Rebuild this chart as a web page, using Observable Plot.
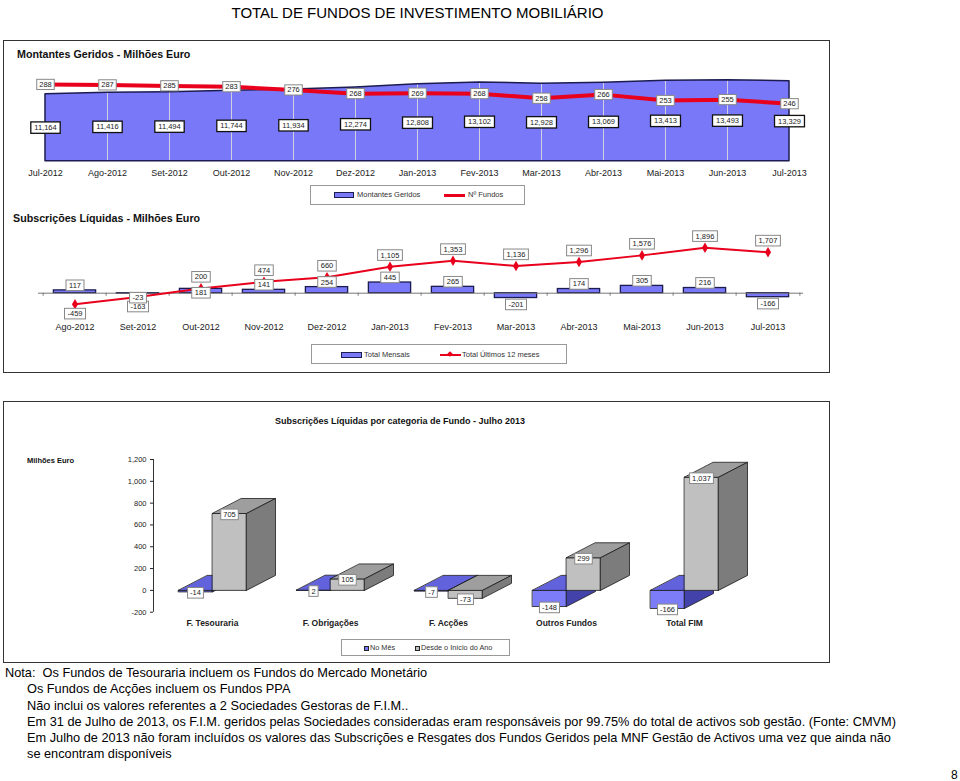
<!DOCTYPE html>
<html><head><meta charset="utf-8">
<script src="https://cdn.jsdelivr.net/npm/d3@7"></script>
<script src="https://cdn.jsdelivr.net/npm/@observablehq/plot@0.6"></script>
<style>
body{margin:0;background:#fff;font-family:"Liberation Sans",Arial,Helvetica,sans-serif;color:#111}
#page{position:relative;width:960px;height:781px;overflow:hidden;background:#fff}
.abs{position:absolute}
.box{position:absolute;border:1.5px solid #333;box-sizing:border-box}
.leg{position:absolute;border:1px solid #999;box-sizing:border-box}
.t{position:absolute;line-height:1;white-space:nowrap}
.lt{position:absolute;font-size:7.5px;color:#333;line-height:1;white-space:nowrap}
.note{position:absolute;font-size:12.75px;line-height:16.2px;white-space:nowrap;color:#000}
</style></head><body><div id="page"></div>
<script>
// ---------- DATA ----------
const meses = ["Jul-2012","Ago-2012","Set-2012","Out-2012","Nov-2012","Dez-2012","Jan-2013","Fev-2013","Mar-2013","Abr-2013","Mai-2013","Jun-2013","Jul-2013"];
const montantes = [11164,11416,11494,11744,11934,12274,12808,13102,12928,13069,13413,13493,13329];
const numFundos = [288,287,285,283,276,268,269,268,258,266,253,255,246];

const mesesSub = ["Ago-2012","Set-2012","Out-2012","Nov-2012","Dez-2012","Jan-2013","Fev-2013","Mar-2013","Abr-2013","Mai-2013","Jun-2013","Jul-2013"];
const totalMensais = [117,-23,181,141,254,445,265,-201,174,305,216,-166];
const totalUltimos12 = [-459,-163,200,474,660,1105,1353,1136,1296,1576,1896,1707];

const categorias = ["F. Tesouraria","F. Obrigações","F. Acções","Outros Fundos","Total FIM"];
const noMes = [-14,2,-7,-148,-166];
const desdeInicio = [705,105,-73,299,1037];
const ticks3 = [-200,0,200,400,600,800,1000,1200];

// ---------- HELPERS ----------
const FONT = '"Liberation Sans", Arial, Helvetica, sans-serif';
const BLUE = "#7878f8", NAVY = "#1c1c50", RED = "#e8001c";
const fmt = d3.formatLocale({decimal: ".", thousands: ",", grouping: [3], currency: ["", ""], minus: "-"}).format(",");
const page = document.getElementById("page");
const NS = "http://www.w3.org/2000/svg";

function place(node, left, top) {
  const d = document.createElement("div");
  d.className = "abs"; d.style.left = left + "px"; d.style.top = top + "px";
  d.appendChild(node); page.appendChild(d); return node;
}
function boxTexts(svg, stroke, sw, px, py) {
  svg.querySelectorAll('g[aria-label="text"] text').forEach(t => {
    const b = t.getBBox();
    const r = document.createElementNS(NS, "rect");
    r.setAttribute("x", b.x - px); r.setAttribute("y", b.y - py);
    r.setAttribute("width", b.width + 2 * px); r.setAttribute("height", b.height + 2 * py);
    r.setAttribute("fill", "white"); r.setAttribute("stroke", stroke); r.setAttribute("stroke-width", sw);
    const tr = t.getAttribute("transform"); if (tr) r.setAttribute("transform", tr);
    t.parentNode.insertBefore(r, t);
  });
}
function el(cls, html, left, top, style = "") {
  const d = document.createElement("div");
  d.className = cls; d.innerHTML = html;
  d.style.cssText += `left:${left}px;top:${top}px;` + style;
  page.appendChild(d); return d;
}
const baseStyle = {background: "transparent", fontFamily: FONT, color: "#222", overflow: "visible"};

// ---------- CHART 1 ----------
const d1 = meses.map((m, i) => ({mes: m, montante: montantes[i], fundos: numFundos[i]}));
const c1 = {width: 827, height: 142, marginLeft: 36, marginRight: 36, marginTop: 30.7, marginBottom: 21.3,
  style: {...baseStyle, fontSize: "9px"}};
const p1a = Plot.plot({...c1,
  x: {type: "point", domain: meses, padding: 0, label: null},
  y: {domain: [0, 15000], axis: null, label: null},
  marks: [
    Plot.areaY(d1, {x: "mes", y: "montante", fill: BLUE}),
    Plot.ruleX(d1.slice(1, -1), {x: "mes", y1: 0, y2: "montante", stroke: "#cfcfe0", strokeWidth: 1}),
    Plot.areaY(d1, {x: "mes", y: "montante", fill: "none", stroke: NAVY, strokeWidth: 1.5}),
    Plot.axisX({tickSize: 0, tickPadding: 8, fontSize: 9, label: null}),
    Plot.text(d1, {x: "mes", y: d => d.montante / 2, text: d => fmt(d.montante), fontSize: 7.5, fill: "#222"})
  ]});
place(p1a, 3, 40);
boxTexts(p1a, "#111", 1.3, 3.5, 1.2);

const p1b = Plot.plot({...c1,
  x: {type: "point", domain: meses, padding: 0, axis: null, label: null},
  y: {domain: [121, 317], axis: null, label: null},
  marks: [
    Plot.line(d1, {x: "mes", y: "fundos", stroke: RED, strokeWidth: 4}),
    Plot.text(d1, {x: "mes", y: "fundos", text: d => String(d.fundos), fontSize: 7.5, fill: "#222"})
  ]});
place(p1b, 3, 40);
boxTexts(p1b, "#888", 1, 2.5, 0.6);

// ---------- CHART 2 ----------
const d2 = mesesSub.map((m, i) => ({mes: m, mensal: totalMensais[i], total: totalUltimos12[i]}));
const c2 = {width: 827, height: 130, marginLeft: 35, marginRight: 27, marginTop: 30.1, marginBottom: 23.1};
const y2dom = [-800, 2400];
const step2 = (c2.width - c2.marginLeft - c2.marginRight) / mesesSub.length;
const pxY2 = (c2.height - c2.marginTop - c2.marginBottom) / (y2dom[1] - y2dom[0]);
const tickLen2 = -3 / pxY2;
const near = d => Math.abs(d.mensal - d.total) < 200;
const p2 = Plot.plot({...c2, style: {...baseStyle, fontSize: "9px"},
  x: {type: "band", domain: mesesSub, padding: 0, label: null},
  y: {domain: y2dom, axis: null, label: null},
  marks: [
    Plot.barY(d2, {x: "mes", y: "mensal", fill: BLUE, stroke: NAVY, strokeWidth: 1.3, insetLeft: (step2 - 43) / 2, insetRight: (step2 - 43) / 2}),
    Plot.ruleY([0], {stroke: "#777"}),
    Plot.ruleX(mesesSub, {x: d => d, y1: 0, y2: tickLen2, dx: -step2 / 2, stroke: "#777"}),
    Plot.ruleX(mesesSub.slice(-1), {x: d => d, y1: 0, y2: tickLen2, dx: step2 / 2, stroke: "#777"}),
    Plot.line(d2, {x: "mes", y: "total", stroke: RED, strokeWidth: 2}),
    Plot.dot(d2, {x: "mes", y: "total", symbol: "diamond", r: 3.2, fill: RED}),
    Plot.axisX({tickSize: 0, tickPadding: 11.6, fontSize: 9, label: null}),
    Plot.text(d2.filter(d => d.total >= 0), {x: "mes", y: "total", text: d => fmt(d.total), dy: -11.5, fontSize: 7.5, fill: "#222"}),
    Plot.text(d2.filter(d => d.total < 0), {x: "mes", y: "total", text: d => fmt(d.total), dy: 9.5, fontSize: 7.5, fill: "#222"}),
    Plot.text(d2.filter(d => !near(d) && d.mensal >= 0), {x: "mes", y: "mensal", text: d => fmt(d.mensal), dy: -5, fontSize: 7.5, fill: "#222"}),
    Plot.text(d2.filter(d => !near(d) && d.mensal < 0), {x: "mes", y: "mensal", text: d => fmt(d.mensal), dy: 6.5, fontSize: 7.5, fill: "#222"}),
    Plot.text(d2.filter(near), {x: "mes", y: "mensal", text: d => fmt(d.mensal), dy: 4, fontSize: 7.5, fill: "#222"})
  ]});
place(p2, 3, 205);
boxTexts(p2, "#888", 1, 3, 0.8);

// ---------- CHART 3 ----------
const c3 = {width: 827, height: 262, marginLeft: 150, marginRight: 28, marginTop: 58, marginBottom: 51.3};
const x3dom = [-0.5, 5], y3dom = [-200, 1200];
const pxX3 = (c3.width - c3.marginLeft - c3.marginRight) / (x3dom[1] - x3dom[0]);
const pxY3 = (c3.height - c3.marginTop - c3.marginBottom) / (y3dom[1] - y3dom[0]);
const barW = 34 / pxX3, depX = 29 / pxX3, depY = 15 / pxY3;
const polys = [];
let pid = 0;
function addPoly(series, face, pts) {
  const id = pid++;
  pts.forEach(([x, y]) => polys.push({series, face, id, x, y}));
}
[[noMes, "blue", -1], [desdeInicio, "gray", 0]].forEach(([vals, s, off]) => {
  vals.forEach((v, i) => {
    const x0 = i + off * barW, x1 = x0 + barW;
    const lo = Math.min(0, v), hi = Math.max(0, v);
    addPoly(s, "front", [[x0, lo], [x1, lo], [x1, hi], [x0, hi]]);
    addPoly(s, "top", [[x0, hi], [x1, hi], [x1 + depX, hi + depY], [x0 + depX, hi + depY]]);
    addPoly(s, "side", [[x1, lo], [x1 + depX, lo + depY], [x1 + depX, hi + depY], [x1, hi]]);
  });
});
const faceColors = {
  blue: {front: "#7c7cf8", top: "#6262dc", side: "#4242aa"},
  gray: {front: "#c0c0c0", top: "#9e9e9e", side: "#7c7c7c"}
};
const faceMarks = [];
["blue", "gray"].forEach(s => ["front", "top", "side"].forEach(f => {
  faceMarks.push(Plot.line(polys.filter(p => p.series === s && p.face === f),
    {x: "x", y: "y", z: "id", curve: "linear-closed", fill: faceColors[s][f], stroke: "#1a1a1a", strokeWidth: 0.8, strokeLinejoin: "miter"}));
}));
const lab3 = [
  ...noMes.map((v, i) => ({x: i - barW / 2, v})),
  ...desdeInicio.map((v, i) => ({x: i + barW / 2, v}))
];
const p3 = Plot.plot({...c3, style: {...baseStyle, fontSize: "7.5px"},
  x: {domain: x3dom, label: null},
  y: {domain: y3dom, label: null},
  marks: [
    ...faceMarks,
    Plot.ruleX([x3dom[0]], {y1: y3dom[0], y2: y3dom[1], stroke: "#333"}),
    Plot.axisY(ticks3, {tickFormat: fmt, tickSize: 3, tickPadding: 4, fontSize: 7.5, label: null}),
    Plot.axisX(categorias.map((c, i) => i), {tickFormat: i => categorias[i], tickSize: 0, tickPadding: 7.3, fontSize: 8.5, fontWeight: "bold", label: null}),
    Plot.text(lab3, {x: "x", y: "v", text: d => fmt(d.v), dy: 1, fontSize: 7.5, fill: "#222"})
  ]});
place(p3, 3, 401);
boxTexts(p3, "#888", 1, 2.5, 0.8);

// ---------- FRAMES, TITLES, LEGENDS, NOTES ----------
el("box", "", 3, 40, "width:827px;height:333px;");
el("box", "", 3, 401, "width:827px;height:262px;");

el("t", "TOTAL DE FUNDOS DE INVESTIMENTO MOBILIÁRIO", 0, 4.7, "width:835px;text-align:center;font-size:15px;color:#000;");
el("t", "Montantes Geridos - Milhões Euro", 17, 48.8, "font-size:10.7px;font-weight:bold;color:#111;");
el("t", "Subscrições Líquidas - Milhões Euro", 13, 212.8, "font-size:10.7px;font-weight:bold;color:#111;");
el("t", "Subscrições Líquidas por categoria de Fundo - Julho 2013", 275, 416.6, "font-size:9px;font-weight:bold;color:#111;");
el("t", "Milhões Euro", 27, 457.3, "font-size:7.5px;font-weight:bold;color:#111;");

// legend 1
el("leg", "", 310, 185, "width:215px;height:20px;");
el("abs", "", 334, 192, `width:20px;height:6px;background:${BLUE};border:1.5px solid ${NAVY};box-sizing:border-box;`);
el("lt", "Montantes Geridos", 357, 191.3);
el("abs", "", 444, 193.5, `width:21px;height:3px;background:${RED};`);
el("lt", "Nº Fundos", 468, 191.3);

// legend 2
el("leg", "", 311, 344, "width:256px;height:20px;");
el("abs", "", 341, 351.5, `width:21px;height:6px;background:${BLUE};border:1.5px solid ${NAVY};box-sizing:border-box;`);
el("lt", "Total Mensais", 364, 350.8);
el("abs", "", 440, 353.5, `width:21px;height:2px;background:${RED};`);
el("abs", "", 448, 352, `width:4px;height:4px;background:${RED};transform:rotate(45deg);`);
el("lt", "Total Últimos 12 meses", 462, 350.8);

// legend 3
el("leg", "", 341, 639, "width:169px;height:17px;");
el("abs", "", 364, 645.5, `width:5px;height:5px;background:${BLUE};border:1px solid #222;box-sizing:border-box;`);
el("lt", "No Mês", 370, 644.4, "font-size:7.3px;");
el("abs", "", 415, 645.5, `width:5px;height:5px;background:#c0c0c0;border:1px solid #222;box-sizing:border-box;`);
el("lt", "Desde o Início do Ano", 421, 644.4, "font-size:7.3px;");

// notes
el("note", "Nota:&nbsp; Os Fundos de Tesouraria incluem os Fundos do Mercado Monetário", 5, 665.2);
el("note", "Os Fundos de Acções incluem os Fundos PPA<br>Não inclui os valores referentes a 2 Sociedades Gestoras de F.I.M..<br>Em 31 de Julho de 2013, os F.I.M. geridos pelas Sociedades consideradas eram responsáveis por 99.75% do total de activos sob gestão. (Fonte: CMVM)<br>Em Julho de 2013 não foram incluídos os valores das Subscrições e Resgates dos Fundos Geridos pela MNF Gestão de Activos uma vez que ainda não<br>se encontram disponíveis", 27, 681.4);
el("t", "8", 951, 769, "font-size:12px;color:#000;");
</script></body></html>
